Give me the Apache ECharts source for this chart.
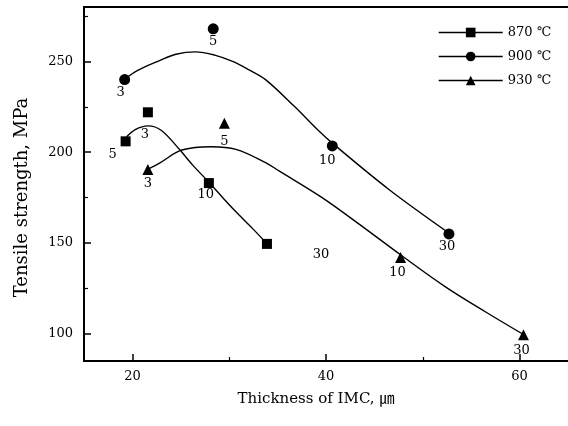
<!DOCTYPE html>
<html>
<head>
<meta charset="utf-8">
<script src="https://cdn.jsdelivr.net/npm/echarts@6/dist/echarts.min.js"></script>
<style>html,body{margin:0;padding:0;background:#fff}#c{width:568px;height:426px}</style>
</head>
<body>
<div id="c"></div>
<script>
// ---- data ----
const seriesNames = ["870 ℃", "900 ℃", "930 ℃"];
// measured points (thickness µm, strength MPa) with holding-time labels
const p870x = [19.3, 21.6, 27.9, 33.9];
const p870y = [206, 222, 183, 149.5];
const p870lab = ["5", "3", "10", "30"];
const p900x = [19.2, 28.35, 40.65, 52.7];
const p900y = [240, 268, 203.5, 155];
const p900lab = ["3", "5", "10", "30"];
const p930x = [21.6, 29.5, 47.7, 60.4];
const p930y = [190.5, 216, 142, 99.5];
const p930lab = ["3", "5", "10", "30"];
// fitted curves
const c870x = [19.4, 20.3, 21.6, 23.0, 24.85, 26.3, 27.9, 29.5, 31.0, 32.5, 33.9];
const c870y = [208.5, 212.5, 214.5, 212, 201.6, 192.5, 183.5, 174, 165.5, 157.5, 149.6];
const c900x = [19.4, 20.5, 22.8, 24.5, 26.5, 28.5, 30.35, 32.0, 33.75, 36.7, 39.3, 40.65, 46.5, 52.7];
const c900y = [241, 245, 250.5, 254, 255.3, 253.5, 250, 245.5, 240, 225.4, 211.5, 205, 179.5, 155.5];
const c930x = [21.6, 22.8, 24.85, 26.5, 28.1, 30.7, 33.75, 35.15, 39.6, 43.7, 47.7, 52.3, 56.5, 60.4];
const c930y = [190.6, 194, 200.7, 202.6, 203, 201.6, 194.3, 189.7, 175, 159.3, 143.5, 126, 112, 99.6];
// axes
const xTickLabels = [20, 40, 60];
const xMinorTicks = [30, 50];
const yTickLabels = [100, 150, 200, 250];
const yMinorTicks = [125, 175, 225, 275];

// ---- styling (not data) ----
const FONT = "DejaVu Serif, Noto Sans CJK SC, serif";
const labelOffsets = {
  "870": [[-13, 13], [-3, 22], [-3, 12], [54, 11]],
  "900": [[-4, 13], [0, 13], [-5, 15], [-2, 13]],
  "930": [[0, 14], [0, 18], [-3, 15], [-2, 16]]
};

function zip(xs, ys) { return xs.map((x, i) => [x, ys[i]]); }
function pointData(xs, ys, labs, key) {
  return xs.map((x, i) => ({
    value: [x, ys[i]],
    label: { show: true, formatter: labs[i], position: 'inside', offset: labelOffsets[key][i] }
  }));
}
function pointSeries(name, xs, ys, labs, key, symbol, size) {
  return {
    type: 'line', name: name, data: pointData(xs, ys, labs, key),
    symbol: symbol, symbolSize: size, showSymbol: true,
    itemStyle: { color: '#000' },
    lineStyle: { width: 0, opacity: 0 },
    label: { color: '#000', fontFamily: FONT, fontSize: 13 },
    z: 3, silent: true
  };
}
function curveSeries(name, xs, ys) {
  return {
    type: 'line', name: name, data: zip(xs, ys), smooth: 0.35,
    symbol: 'none', lineStyle: { color: '#000', width: 1.4 }, z: 2, silent: true
  };
}

const chart = echarts.init(document.getElementById('c'), null, { renderer: 'canvas' });
chart.setOption({
  animation: false,
  backgroundColor: '#fff',
  grid: { left: 84, right: 0, top: 7, bottom: 65, show: false },
  legend: {
    data: seriesNames, orient: 'vertical', left: 433, top: 21,
    itemWidth: 64, itemHeight: 12, itemGap: 11,
    lineStyle: { color: '#000', width: 1.4, opacity: 1, type: 'solid' },
    textStyle: { fontFamily: FONT, fontSize: 13, color: '#000', lineHeight: 12 }
  },
  xAxis: [{
    type: 'value', min: 15, max: 65,
    name: 'Thickness of IMC, ㎛', nameLocation: 'middle', nameGap: 31,
    nameTextStyle: { fontFamily: FONT, fontSize: 15, color: '#000', padding: [0, 20, 0, 0] },
    axisLine: { show: true, lineStyle: { color: '#000', width: 2 } },
    axisTick: { show: true, inside: true, length: 7, customValues: xTickLabels, lineStyle: { color: '#000', width: 1.5 } },
    axisLabel: { customValues: xTickLabels, fontFamily: FONT, fontSize: 13, color: '#000', margin: 9 },
    splitLine: { show: false }
  }, {
    type: 'value', min: 15, max: 65, position: 'bottom',
    axisLine: { show: false },
    axisTick: { show: true, inside: true, length: 4, customValues: xMinorTicks, lineStyle: { color: '#000', width: 1.2 } },
    axisLabel: { show: false }, splitLine: { show: false }
  }, {
    type: 'value', min: 15, max: 65, position: 'top',
    axisLine: { show: true, lineStyle: { color: '#000', width: 2 } },
    axisTick: { show: false }, axisLabel: { show: false }, splitLine: { show: false }
  }],
  yAxis: [{
    type: 'value', min: 85, max: 280,
    name: 'Tensile strength, MPa', nameLocation: 'middle', nameGap: 53,
    nameTextStyle: { fontFamily: FONT, fontSize: 18, color: '#000', padding: [0, 27, 0, 0] },
    axisLine: { show: true, lineStyle: { color: '#000', width: 2 } },
    axisTick: { show: true, inside: true, length: 7, customValues: yTickLabels, lineStyle: { color: '#000', width: 1.5 } },
    axisLabel: { customValues: yTickLabels, fontFamily: FONT, fontSize: 13, color: '#000', margin: 11 },
    splitLine: { show: false }
  }, {
    type: 'value', min: 85, max: 280, position: 'left',
    axisLine: { show: false },
    axisTick: { show: true, inside: true, length: 4, customValues: yMinorTicks, lineStyle: { color: '#000', width: 1.2 } },
    axisLabel: { show: false }, splitLine: { show: false }
  }],
  series: [
    curveSeries('870 fit', c870x, c870y),
    curveSeries('900 fit', c900x, c900y),
    curveSeries('930 fit', c930x, c930y),
    pointSeries(seriesNames[0], p870x, p870y, p870lab, '870', 'rect', 10),
    pointSeries(seriesNames[1], p900x, p900y, p900lab, '900', 'circle', 11),
    pointSeries(seriesNames[2], p930x, p930y, p930lab, '930', 'triangle', 11)
  ]
});
</script>
</body>
</html>
